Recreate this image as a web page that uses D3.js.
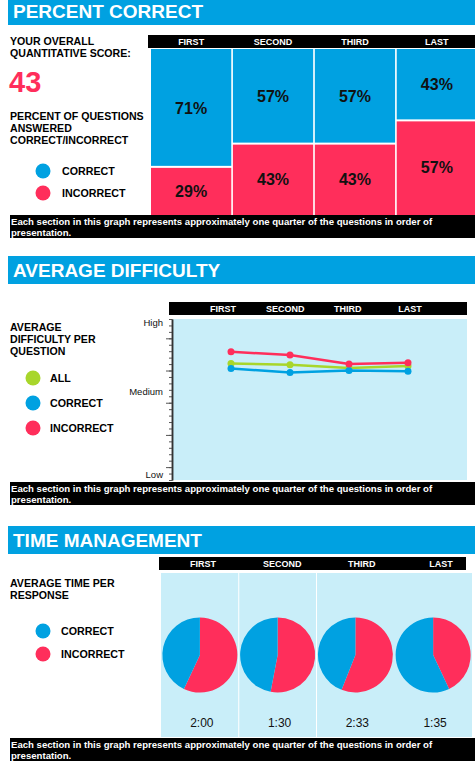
<!DOCTYPE html>
<html>
<head>
<meta charset="utf-8">
<script src="https://cdn.jsdelivr.net/npm/d3@7"></script>
<style>
  html, body { margin: 0; padding: 0; background: #fff; }
  svg { display: block; font-family: "Liberation Sans", Arial, sans-serif; }
</style>
</head>
<body>
<svg id="chart" width="475" height="761"></svg>
<script>
// quarters of the test
const quarters = ['FIRST', 'SECOND', 'THIRD', 'LAST'];

// percent correct / incorrect per quarter
const pctCorrect = [71, 57, 57, 43];
const pctIncorrect = [29, 43, 43, 57];
const overallScore = 43;

// average difficulty per question (0 = low, 25 = high)
const diffAll = [18.1, 17.9, 17.4, 17.7];
const diffCorrect = [17.3, 16.7, 17.0, 16.9];
const diffIncorrect = [19.9, 19.4, 18.0, 18.2];
const diffMajorTicks = [2, 7, 12, 17, 22];
const diffLabels = ['High', 'Medium', 'Low'];
const diffLabelValues = [24.5, 13.7, 0.9];

// time management: share of time spent on correct / incorrect answers
const timeCorrectShare = [43, 47, 44, 57];
const timeIncorrectShare = [57, 53, 56, 43];
const timeLabels = ['2:00', '1:30', '2:33', '1:35'];

const footerLines = [
  'Each section in this graph represents approximately one quarter of the questions in order of',
  'presentation.'
];

const BLUE = '#00a1e1';
const RED = '#ff2e5b';
const GREEN = '#a8d62b';
const PALE = '#c9eef9';

const svg = d3.select('#chart');

// ---- helpers ----
function sectionTitle(y, label) {
  svg.append('rect')
    .attr('x', 8).attr('y', y).attr('width', 467).attr('height', 28)
    .attr('fill', BLUE);
  svg.append('text')
    .attr('x', 13).attr('y', y + 21)
    .attr('fill', '#fff')
    .style('font-size', '19px')
    .style('font-weight', 'bold')
    .text(label);
}

function headerBar(x0, x1, y, labelScale) {
  svg.append('rect')
    .attr('x', x0).attr('y', y).attr('width', x1 - x0).attr('height', 13)
    .attr('fill', '#000');
  svg.selectAll(null)
    .data(quarters)
    .enter().append('text')
    .attr('x', d => labelScale(d))
    .attr('y', y + 10)
    .attr('text-anchor', 'middle')
    .attr('fill', '#fff')
    .style('font-size', '9px')
    .style('font-weight', 'bold')
    .text(d => d);
}

function footer(y) {
  svg.append('rect')
    .attr('x', 10).attr('y', y).attr('width', 465).attr('height', 23)
    .attr('fill', '#000');
  svg.selectAll(null)
    .data(footerLines)
    .enter().append('text')
    .attr('x', 11)
    .attr('y', (d, i) => y + 10 + i * 10.5)
    .attr('fill', '#fff')
    .style('font-size', '9.6px')
    .style('font-weight', 'bold')
    .text(d => d);
}

function textBlock(x, y, lines, size) {
  svg.selectAll(null)
    .data(lines)
    .enter().append('text')
    .attr('x', x)
    .attr('y', (d, i) => y + i * 12)
    .attr('fill', '#000')
    .style('font-size', size + 'px')
    .style('font-weight', 'bold')
    .text(d => d);
}

function legend(cx, ys, labelX, items) {
  items.forEach((item, i) => {
    svg.append('circle')
      .attr('cx', cx).attr('cy', ys[i]).attr('r', 7.5)
      .attr('fill', item.color);
    svg.append('text')
      .attr('x', labelX).attr('y', ys[i] + 4)
      .attr('fill', '#000')
      .style('font-size', '10.7px')
      .style('font-weight', 'bold')
      .text(item.label);
  });
}

// ================= PERCENT CORRECT =================
sectionTitle(-3, 'PERCENT CORRECT');

const xMosaic = d3.scaleBand()
  .domain(quarters)
  .range([151, 477])
  .paddingInner(0.02);

const yMosaic = d3.scaleLinear()
  .domain([0, 100])
  .range([49, 215]);

headerBar(148, 475, 35, d => xMosaic(d) + xMosaic.bandwidth() / 2);

textBlock(10, 45, ['YOUR OVERALL', 'QUANTITATIVE SCORE:'], 10.6);
svg.append('text')
  .attr('x', 9).attr('y', 92)
  .attr('fill', RED)
  .style('font-size', '29px')
  .style('font-weight', 'bold')
  .text(overallScore);
textBlock(10, 120, ['PERCENT OF QUESTIONS', 'ANSWERED', 'CORRECT/INCORRECT'], 10.6);
legend(43, [171, 193], 62, [
  { label: 'CORRECT', color: BLUE },
  { label: 'INCORRECT', color: RED }
]);

const mosaic = svg.append('g');
quarters.forEach((q, i) => {
  const x = xMosaic(q);
  const w = xMosaic.bandwidth();
  const split = yMosaic(pctCorrect[i]);
  mosaic.append('rect')
    .attr('x', x).attr('y', yMosaic(0))
    .attr('width', w).attr('height', split - 1 - yMosaic(0))
    .attr('fill', BLUE);
  mosaic.append('rect')
    .attr('x', x).attr('y', split + 1)
    .attr('width', w).attr('height', yMosaic(100) - split - 1)
    .attr('fill', RED);
  mosaic.append('text')
    .attr('x', x + w / 2)
    .attr('y', (yMosaic(0) + split) / 2)
    .attr('dy', '0.36em')
    .attr('text-anchor', 'middle')
    .attr('fill', '#111')
    .style('font-size', '16px')
    .style('font-weight', 'bold')
    .text(pctCorrect[i] + '%');
  mosaic.append('text')
    .attr('x', x + w / 2)
    .attr('y', (split + yMosaic(100)) / 2)
    .attr('dy', '0.36em')
    .attr('text-anchor', 'middle')
    .attr('fill', '#111')
    .style('font-size', '16px')
    .style('font-weight', 'bold')
    .text(pctIncorrect[i] + '%');
});

footer(215);

// ================= AVERAGE DIFFICULTY =================
sectionTitle(256, 'AVERAGE DIFFICULTY');

const xDiffLabels = d3.scalePoint().domain(quarters).range([223, 410]);
headerBar(169, 467, 302, xDiffLabels);

textBlock(10, 331, ['AVERAGE', 'DIFFICULTY PER', 'QUESTION'], 10.6);
legend(33, [378, 403, 428], 50, [
  { label: 'ALL', color: GREEN },
  { label: 'CORRECT', color: BLUE },
  { label: 'INCORRECT', color: RED }
]);

const xDiff = d3.scalePoint().domain(quarters).range([231, 408]);
const yDiff = d3.scaleLinear().domain([0, 25]).range([480, 319]);

svg.append('rect')
  .attr('x', 173).attr('y', yDiff(25))
  .attr('width', 294).attr('height', yDiff(0) - yDiff(25))
  .attr('fill', PALE);

// minor and major ticks
const minorAxis = svg.append('g')
  .attr('transform', 'translate(172,0)')
  .call(d3.axisLeft(yDiff).tickValues(d3.range(0, 26)).tickSize(3).tickSizeOuter(0).tickFormat(''));
const majorAxis = svg.append('g')
  .attr('transform', 'translate(172,0)')
  .call(d3.axisLeft(yDiff).tickValues(diffMajorTicks).tickSize(6).tickSizeOuter(0).tickFormat(''));
[minorAxis, majorAxis].forEach(a => {
  a.selectAll('line').attr('stroke', '#555');
  a.select('.domain').attr('stroke', '#333').attr('stroke-width', 1.5);
});

svg.selectAll(null)
  .data(diffLabels)
  .enter().append('text')
  .attr('x', 163)
  .attr('y', (d, i) => yDiff(diffLabelValues[i]))
  .attr('dy', '0.35em')
  .attr('text-anchor', 'end')
  .attr('fill', '#111')
  .style('font-size', '9.5px')
  .text(d => d);

const diffSeries = [
  { values: diffAll, color: GREEN },
  { values: diffCorrect, color: BLUE },
  { values: diffIncorrect, color: RED }
];

const line = d3.line()
  .x((d, i) => xDiff(quarters[i]))
  .y(d => yDiff(d));

diffSeries.forEach(s => {
  svg.append('path')
    .datum(s.values)
    .attr('fill', 'none')
    .attr('stroke', s.color)
    .attr('stroke-width', 2.5)
    .attr('d', line);
  svg.selectAll(null)
    .data(s.values)
    .enter().append('circle')
    .attr('cx', (d, i) => xDiff(quarters[i]))
    .attr('cy', d => yDiff(d))
    .attr('r', 3.5)
    .attr('fill', s.color);
});

footer(482);

// ================= TIME MANAGEMENT =================
sectionTitle(526, 'TIME MANAGEMENT');

const xTimeLabels = d3.scalePoint().domain(quarters).range([203, 441]);
headerBar(159, 466, 557, xTimeLabels);

textBlock(10, 587, ['AVERAGE TIME PER', 'RESPONSE'], 10.6);
legend(43, [631, 654], 61, [
  { label: 'CORRECT', color: BLUE },
  { label: 'INCORRECT', color: RED }
]);

const xTime = d3.scaleBand().domain(quarters).range([161, 472]);

svg.append('rect')
  .attr('x', 161).attr('y', 573)
  .attr('width', 311).attr('height', 164)
  .attr('fill', PALE);
svg.selectAll(null)
  .data(quarters.slice(1, 3))
  .enter().append('line')
  .attr('x1', d => xTime(d)).attr('x2', d => xTime(d))
  .attr('y1', 573).attr('y2', 737)
  .attr('stroke', '#fff')
  .attr('stroke-width', 1);

const pie = d3.pie().sort(null).value(d => d.v);
const arc = d3.arc().innerRadius(0).outerRadius(37.5);

quarters.forEach((q, i) => {
  const cx = xTime(q) + xTime.bandwidth() / 2;
  const g = svg.append('g').attr('transform', `translate(${cx},655)`);
  g.selectAll('path')
    .data(pie([
      { v: timeIncorrectShare[i], color: RED },
      { v: timeCorrectShare[i], color: BLUE }
    ]))
    .enter().append('path')
    .attr('d', arc)
    .attr('fill', d => d.data.color);
  svg.append('text')
    .attr('x', cx + 2)
    .attr('y', 727)
    .attr('text-anchor', 'middle')
    .attr('fill', '#111')
    .style('font-size', '12px')
    .text(timeLabels[i]);
});

footer(738);
</script>
</body>
</html>
